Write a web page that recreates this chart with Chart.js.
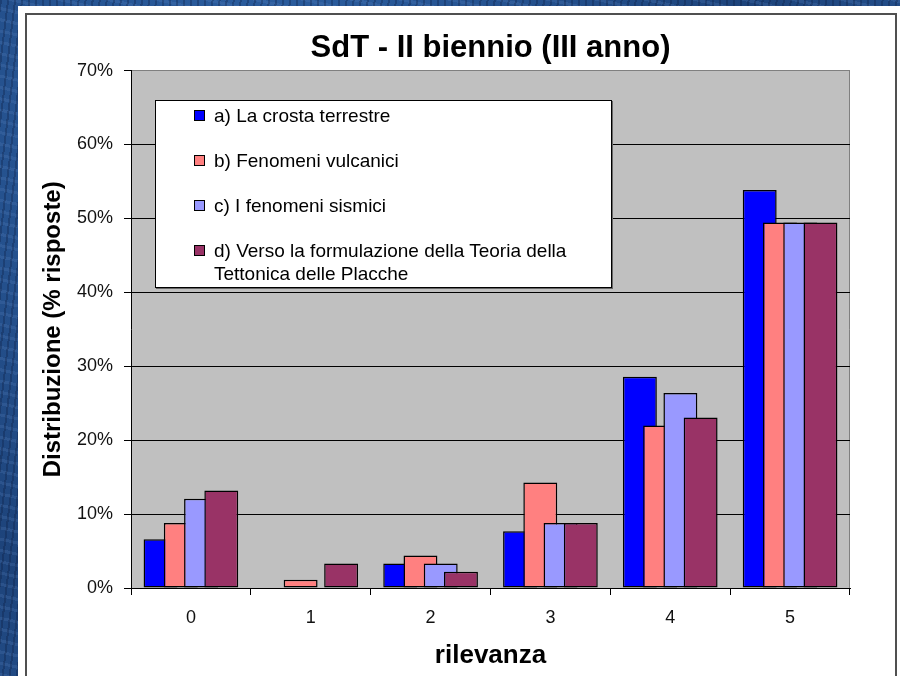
<!DOCTYPE html>
<html>
<head>
<meta charset="utf-8">
<script src="https://cdn.jsdelivr.net/npm/chart.js@4.4.1/dist/chart.umd.min.js"></script>
<style>
  html, body { margin: 0; padding: 0; width: 900px; height: 676px; overflow: hidden; }
  body {
    background-color: #234f8c;
    background-image:
      repeating-linear-gradient(97deg, rgba(10,25,60,0.30) 0 2px, rgba(0,0,0,0) 2px 7px),
      repeating-linear-gradient(13deg, rgba(90,130,190,0.22) 0 3px, rgba(0,0,0,0) 3px 11px),
      radial-gradient(circle at 30% 20%, #2f64a8 0, #1d437a 60%, #2a5a9a 100%);
    position: relative;
    font-family: "Liberation Sans", Arial, sans-serif;
  }
  #sheet { position: absolute; left: 18px; top: 6px; width: 882px; height: 670px; background: #fff; }
  #frame { position: absolute; left: 25px; top: 13px; width: 872px; height: 680px; border: 2px solid #505050; box-sizing: border-box; }
  #chart { position: absolute; left: 0; top: 0; }
  #legend {
    position: absolute; left: 155px; top: 100px; width: 457px; height: 188px;
    box-sizing: border-box; border: 1px solid #000; background: #fff;
    padding-top: 3px; font-size: 19px; line-height: 23px; color: #000;
    box-shadow: 1px 1px 0 #666;
  }
  .row { position: relative; padding-left: 58px; margin-bottom: 22px; }
  .sw { position: absolute; left: 38px; top: 6px; width: 11px; height: 11px; border: 1px solid #000; box-sizing: border-box; }
</style>
</head>
<body>
<div id="sheet"></div>
<div id="frame"></div>
<canvas id="chart" width="900" height="676"></canvas>
<div id="legend"></div>
<script>
// ---- data (percent of responses) ----
const categories = ["0", "1", "2", "3", "4", "5"];
const seriesNames = [
  "a) La crosta terrestre",
  "b) Fenomeni vulcanici",
  "c) I fenomeni sismici",
  "d) Verso la formulazione della Teoria della Tettonica delle Placche"
];
const crostaTerrestre     = [6.59, 0, 3.30, 7.69, 28.57, 53.85];
const fenomeniVulcanici   = [8.79, 1.10, 4.40, 14.29, 21.98, 49.45];
const fenomeniSismici     = [12.09, 0, 3.30, 8.79, 26.37, 49.45];
const tettonicaPlacche    = [13.19, 3.30, 2.20, 8.79, 23.08, 49.45];
const yTickValues = [0, 10, 20, 30, 40, 50, 60, 70];

const seriesColors = ["#0000FF", "#FF8080", "#9999FF", "#993366"];
const seriesData = [crostaTerrestre, fenomeniVulcanici, fenomeniSismici, tettonicaPlacche];

const FONT = '"Liberation Sans", Arial, sans-serif';

// plot background + right frame
const plotBg = {
  id: 'plotBg',
  beforeDraw(chart) {
    const {ctx, chartArea: a} = chart;
    ctx.save();
    ctx.fillStyle = '#C0C0C0';
    ctx.fillRect(a.left, a.top, a.right - a.left, a.bottom - a.top);
    ctx.strokeStyle = '#808080';
    ctx.lineWidth = 1;
    ctx.beginPath();
    ctx.moveTo(Math.round(a.right) - 0.5, a.top);
    ctx.lineTo(Math.round(a.right) - 0.5, a.bottom);
    ctx.stroke();
    ctx.restore();
  }
};
// draw series in their natural order so later series overlap earlier ones
const drawOrder = {
  id: 'drawOrder',
  beforeDatasetsDraw(chart) {
    const metas = chart.getSortedVisibleDatasetMetas();
    metas.forEach(m => m.controller.draw());
    return false;
  }
};

new Chart(document.getElementById('chart'), {
  type: 'bar',
  data: {
    labels: categories,
    datasets: seriesData.map((d, i) => ({
      label: seriesNames[i],
      data: d,
      backgroundColor: seriesColors[i],
      borderColor: '#000',
      borderWidth: 1.5,
      borderSkipped: false,
      categoryPercentage: 0.676,
      barPercentage: 1.675
    }))
  },
  options: {
    responsive: false,
    animation: false,
    events: [],
    layout: { padding: { left: 25, right: 50, top: 13, bottom: 0 } },
    plugins: {
      legend: { display: false },
      tooltip: { enabled: false },
      title: {
        display: true,
        text: 'SdT - II biennio (III anno)',
        fullSize: false,
        color: '#000',
        font: { family: FONT, size: 31, weight: 'bold' },
        padding: { top: 16.4, bottom: 4 }
      }
    },
    scales: {
      x: {
        afterFit(s) { s.height = 88; },
        grid: { display: true, drawOnChartArea: false, drawTicks: true, tickLength: 7, color: '#000', offset: true },
        border: { display: true, color: '#000', width: 1 },
        ticks: { color: '#111', font: { family: FONT, size: 18 }, padding: 12 },
        title: { display: true, text: 'rilevanza', color: '#000', font: { family: FONT, size: 26, weight: 'bold' }, padding: { top: 0, bottom: 4.5 } }
      },
      y: {
        min: 0, max: 70,
        afterFit(s) { s.width = 106; },
        afterBuildTicks(s) { s.ticks = yTickValues.map(v => ({ value: v })); },
        grid: {
          color: c => (c.tick && c.tick.value === 70) ? '#808080' : '#000',
          tickColor: '#000',
          lineWidth: 1, tickLength: 7, drawTicks: true
        },
        border: { display: true, color: '#000', width: 1 },
        ticks: { color: '#111', font: { family: FONT, size: 18 }, padding: 11, callback: v => v + '%' },
        title: { display: true, text: 'Distribuzione (% risposte)', color: '#000', font: { family: FONT, size: 24, weight: 'bold' }, padding: { top: 14, bottom: 0 } }
      }
    }
  },
  plugins: [plotBg, drawOrder]
});

// legend box (HTML text)
const leg = document.getElementById('legend');
seriesNames.forEach((name, i) => {
  const row = document.createElement('div');
  row.className = 'row';
  const sw = document.createElement('span');
  sw.className = 'sw';
  sw.style.background = seriesColors[i];
  row.appendChild(sw);
  row.appendChild(document.createTextNode(name));
  leg.appendChild(row);
});
leg.lastChild.style.paddingRight = '30px';
</script>
</body>
</html>
